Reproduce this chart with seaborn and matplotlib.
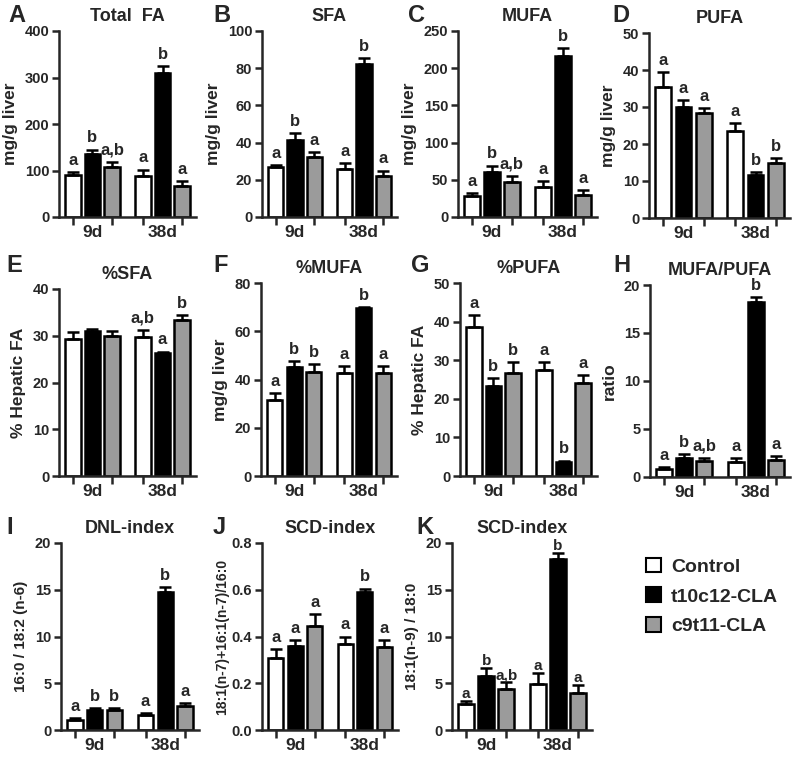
import numpy as np
import pandas as pd
import matplotlib.pyplot as plt
import seaborn as sns
from matplotlib.patches import Patch
from matplotlib.ticker import FormatStrFormatter

days = ['9d', '38d']
groups = ['Control', 't10c12-CLA', 'c9t11-CLA']
colors = ['white', 'black', '#9b9b9b']

# order: 9d Control, 9d t10c12, 9d c9t11, 38d Control, 38d t10c12, 38d c9t11
total_fa = [90, 135, 108, 88, 310, 67]
total_fa_err = [7, 10, 10, 14, 15, 10]
total_fa_sig = ['a', 'b', 'a,b', 'a', 'b', 'a']

sfa = [27, 41.5, 32.5, 26, 82, 22]
sfa_err = [1, 3.5, 2.5, 3, 3.5, 3]
sfa_sig = ['a', 'b', 'a', 'a', 'b', 'a']

mufa = [28, 61, 47, 40, 216, 29]
mufa_err = [4, 8, 8, 8, 11, 7]
mufa_sig = ['a', 'b', 'a,b', 'a', 'b', 'a']

pufa = [35.5, 30, 28.3, 23.6, 11.5, 15]
pufa_err = [4, 1.8, 1.3, 2, 0.8, 1.3]
pufa_sig = ['a', 'a', 'a', 'a', 'b', 'b']

pct_sfa = [29.4, 31.1, 29.9, 29.7, 26.3, 33.4]
pct_sfa_err = [1.3, 0.4, 1.1, 1.5, 0.3, 1.1]
pct_sfa_sig = ['', '', '', 'a,b', 'a', 'b']

pct_mufa = [31.5, 45, 43, 42.5, 69.5, 42.5]
pct_mufa_err = [3, 2.5, 3.5, 3, 0.5, 3]
pct_mufa_sig = ['a', 'b', 'b', 'a', 'b', 'a']

pct_pufa = [38.5, 23.2, 26.8, 27.5, 3.6, 24]
pct_pufa_err = [3.2, 2.1, 2.7, 2, 0.4, 2.2]
pct_pufa_sig = ['a', 'b', 'b', 'a', 'b', 'a']

mufa_pufa = [0.8, 1.95, 1.7, 1.6, 18.2, 1.8]
mufa_pufa_err = [0.2, 0.4, 0.3, 0.35, 0.5, 0.4]
mufa_pufa_sig = ['a', 'b', 'a,b', 'a', 'b', 'a']

dnl = [1.1, 2.1, 2.1, 1.6, 14.8, 2.6]
dnl_err = [0.2, 0.25, 0.25, 0.2, 0.5, 0.3]
dnl_sig = ['a', 'b', 'b', 'a', 'b', 'a']

scd7 = [0.31, 0.36, 0.445, 0.37, 0.59, 0.355]
scd7_err = [0.035, 0.025, 0.05, 0.03, 0.015, 0.03]
scd7_sig = ['a', 'a', 'a', 'a', 'b', 'a']

scd9 = [2.75, 5.8, 4.4, 4.9, 18.3, 4.0]
scd9_err = [0.35, 0.8, 0.7, 1.2, 0.6, 0.8]
scd9_sig = ['a', 'b', 'a,b', 'a', 'b', 'a']

W, H = 800, 764

# letter, title, ylabel, ymax, step, fmt, values, errors, letters, (left, top, width, bottom) px
panels = [
    ('A', 'Total  FA', 'mg/g liver', 400, 100, '%d', total_fa, total_fa_err, total_fa_sig, (59, 31, 137, 217)),
    ('B', 'SFA', 'mg/g liver', 100, 20, '%d', sfa, sfa_err, sfa_sig, (262, 31, 135, 217)),
    ('C', 'MUFA', 'mg/g liver', 250, 50, '%d', mufa, mufa_err, mufa_sig, (458, 31, 139, 217)),
    ('D', 'PUFA', 'mg/g liver', 50, 10, '%d', pufa, pufa_err, pufa_sig, (649, 33, 141, 218)),
    ('E', '%SFA', '% Hepatic FA', 40, 10, '%d', pct_sfa, pct_sfa_err, pct_sfa_sig, (59, 289, 137, 476)),
    ('F', '%MUFA', 'mg/g liver', 80, 20, '%d', pct_mufa, pct_mufa_err, pct_mufa_sig, (261, 283, 136, 476)),
    ('G', '%PUFA', '% Hepatic FA', 50, 10, '%d', pct_pufa, pct_pufa_err, pct_pufa_sig, (460, 283, 137, 476)),
    ('H', 'MUFA/PUFA', 'ratio', 20, 5, '%d', mufa_pufa, mufa_pufa_err, mufa_pufa_sig, (650, 285, 140, 477)),
    ('I', 'DNL-index', '16:0 / 18:2 (n-6)', 20, 5, '%d', dnl, dnl_err, dnl_sig, (61, 543, 138, 730)),
    ('J', 'SCD-index', '18:1(n-7)+16:1(n-7)/16:0', 0.8, 0.2, '%.1f', scd7, scd7_err, scd7_sig, (262, 543, 136, 730)),
    ('K', 'SCD-index', '18:1(n-9) / 18:0', 20, 5, '%d', scd9, scd9_err, scd9_sig, (452, 543, 140, 730)),
]

sns.set_style('ticks')
plt.rcParams['font.family'] = ['Liberation Sans', 'DejaVu Sans']
plt.rcParams['font.weight'] = 'bold'
plt.rcParams['axes.labelweight'] = 'bold'
plt.rcParams['axes.titleweight'] = 'bold'

fig = plt.figure(figsize=(W / 100, H / 100), dpi=100)

for letter, title, ylabel, ymax, step, fmt, vals, errs, sig, (l, t, w, b) in panels:
    ax = fig.add_axes([l / W, 1 - b / H, w / W, (b - t) / H])
    df = pd.DataFrame({
        'day': [d for d in days for g in groups],
        'group': [g for d in days for g in groups],
        'value': vals,
    })
    sns.barplot(data=df, x='day', y='value', hue='group', order=days, hue_order=groups,
                palette=colors, saturation=1, width=0.84, gap=0.22, edgecolor='black',
                linewidth=1.8, errorbar=None, legend=False, ax=ax)
    bar_conts = list(ax.containers)
    centers = []
    for h, cont in enumerate(bar_conts):
        for d, bar in enumerate(cont.patches):
            i = d * 3 + h
            x = bar.get_x() + bar.get_width() / 2
            y = bar.get_height()
            centers.append(x)
            ax.errorbar(x, y, yerr=[[0], [errs[i]]], fmt='none', ecolor='black',
                        elinewidth=1.8, capsize=4, capthick=1.8, zorder=3)
            if sig[i]:
                off, lfs = (0, 11) if letter == 'K' else (3, 12)
                ax.annotate(sig[i], (x, y + errs[i]), xytext=(0, off), textcoords='offset points',
                            ha='center', va='bottom', fontsize=lfs, fontweight='bold')
    ax.set_ylim(0, ymax)
    ax.set_yticks(np.arange(0, ymax + step / 2, step))
    ax.yaxis.set_major_formatter(FormatStrFormatter(fmt))
    ax.set_xticks(sorted(centers), minor=True)
    ax.tick_params(axis='x', which='major', length=0, pad=6, labelsize=12.5)
    ax.tick_params(axis='x', which='minor', length=6, width=1.8)
    ax.tick_params(axis='y', length=5, width=1.8, labelsize=10.5, pad=2)
    ax.set_xlabel('')
    fs = 10 if letter == 'J' else (11 if letter in 'IK' else 12.5)
    ax.set_ylabel(ylabel, fontsize=fs, labelpad=2 if letter == 'J' else 5)
    ax.set_title(title, fontsize=13, fontweight='bold', pad=7)
    for s in ['left', 'bottom']:
        ax.spines[s].set_linewidth(1.8)
    sns.despine(ax=ax)
    lx = {'A': 8, 'B': 213, 'C': 408, 'D': 612, 'E': 6, 'F': 213, 'G': 411, 'H': 613,
          'I': 6, 'J': 213, 'K': 416}[letter]
    ly = {'A': 15, 'B': 15, 'C': 15, 'D': 15, 'E': 266, 'F': 266, 'G': 266, 'H': 266,
          'I': 527, 'J': 527, 'K': 527}[letter]
    fig.text(lx / W, 1 - ly / H, letter, fontsize=17, fontweight='bold', va='center', ha='left')

handles = [Patch(facecolor=c, edgecolor='black', linewidth=1.5, label=g) for c, g in zip(colors, groups)]
fig.legend(handles=handles, loc='upper left', bbox_to_anchor=(628 / W, 1 - 540 / H), frameon=False,
           prop={'size': 14, 'weight': 'bold'}, handlelength=0.8, handleheight=0.8,
           handletextpad=0.5, labelspacing=0.6)

fig.savefig('out.png', dpi=100)
